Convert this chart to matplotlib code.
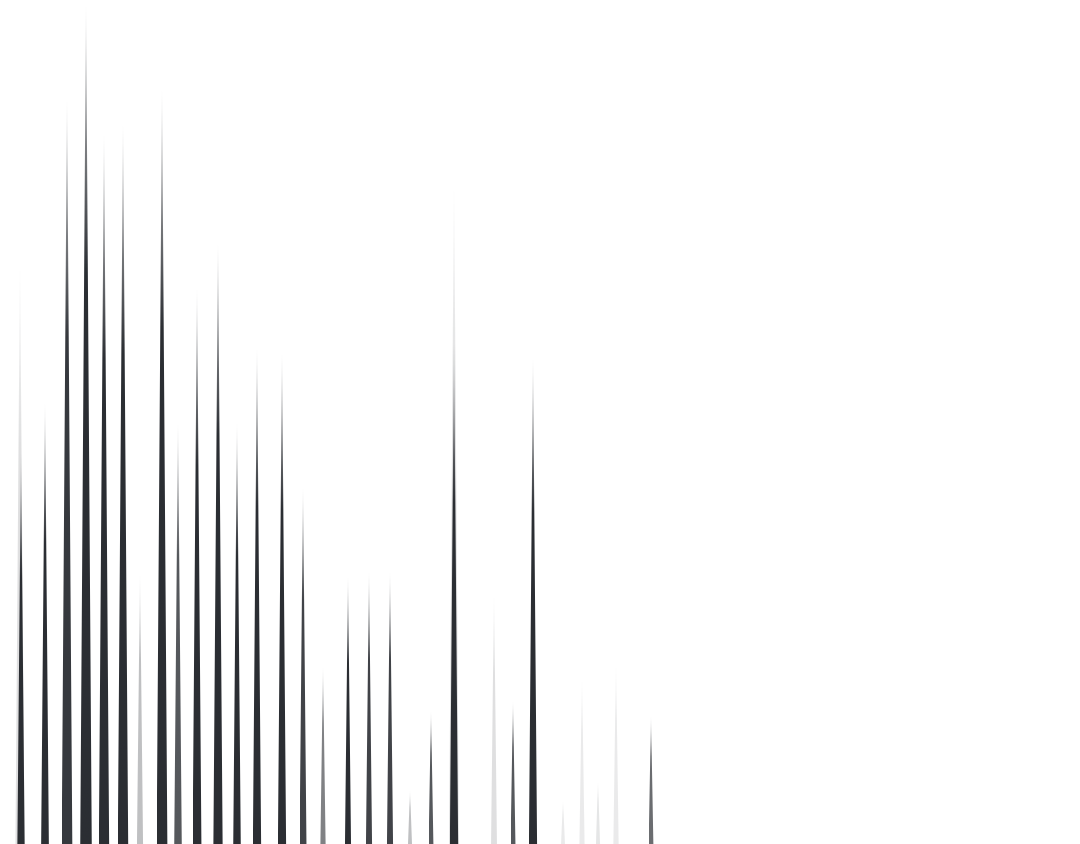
import numpy as np
import matplotlib
matplotlib.use("Agg")
import matplotlib.pyplot as plt
from matplotlib.patches import Polygon
from matplotlib.colors import to_rgb

# ==== Data (x position, spike top in px from top, intensity) ====
SPIKE_X = [20, 21, 45, 67, 86, 104, 123, 140, 162, 178, 197, 218, 237, 257, 282,
           303, 323, 348, 369, 390, 410, 431, 454, 454, 494, 513, 533, 563, 582,
           598, 616, 651]
SPIKE_TOP = [255, 450, 400, 95, 0, 130, 120, 570, 85, 420, 285, 240, 420, 345, 350,
             485, 665, 575, 570, 570, 790, 710, 175, 340, 590, 700, 355, 800, 675,
             780, 660, 715]
SPIKE_LEVEL = [0.15, 1.0, 1.0, 0.95, 1.0, 1.0, 1.0, 0.3, 1.0, 0.8, 1.0, 1.0, 1.0, 1.0, 1.0,
               0.9, 0.6, 1.0, 0.9, 0.9, 0.3, 0.8, 0.15, 1.0, 0.15, 0.8, 1.0, 0.1, 0.1,
               0.12, 0.1, 0.7]

# ==== Style ====
W, H = 1080, 844
COLOR = "#2b2e33"
FADE = 0.32  # fraction of height over which the tip fades out

fig = plt.figure(figsize=(W / 100, H / 100), dpi=100)
ax = fig.add_axes([0, 0, 1, 1])
rgb = to_rgb(COLOR)

for x, top, level in zip(SPIKE_X, SPIKE_TOP, SPIKE_LEVEL):
    h = H - top
    w = 3.5 + 8 * h / H
    # vertical alpha ramp: solid at the base, fading towards the tip
    t = np.linspace(0, 1, 256)
    alpha = level * np.clip((1 - t) / FADE, 0, 1) ** 0.8
    img = np.zeros((256, 1, 4))
    img[:, 0, :3] = rgb
    img[:, 0, 3] = alpha
    tri = Polygon([(x - w / 2, 0), (x + w / 2, 0), (x, h)], closed=True,
                  facecolor="none", edgecolor="none")
    ax.add_patch(tri)
    im = ax.imshow(img, extent=(x - w / 2, x + w / 2, 0, h), origin="lower",
                   aspect="auto", interpolation="bilinear")
    im.set_clip_path(tri)

ax.set_xlim(0, W)
ax.set_ylim(0, H)
ax.axis("off")
fig.savefig("out.png", dpi=100, facecolor="white")
